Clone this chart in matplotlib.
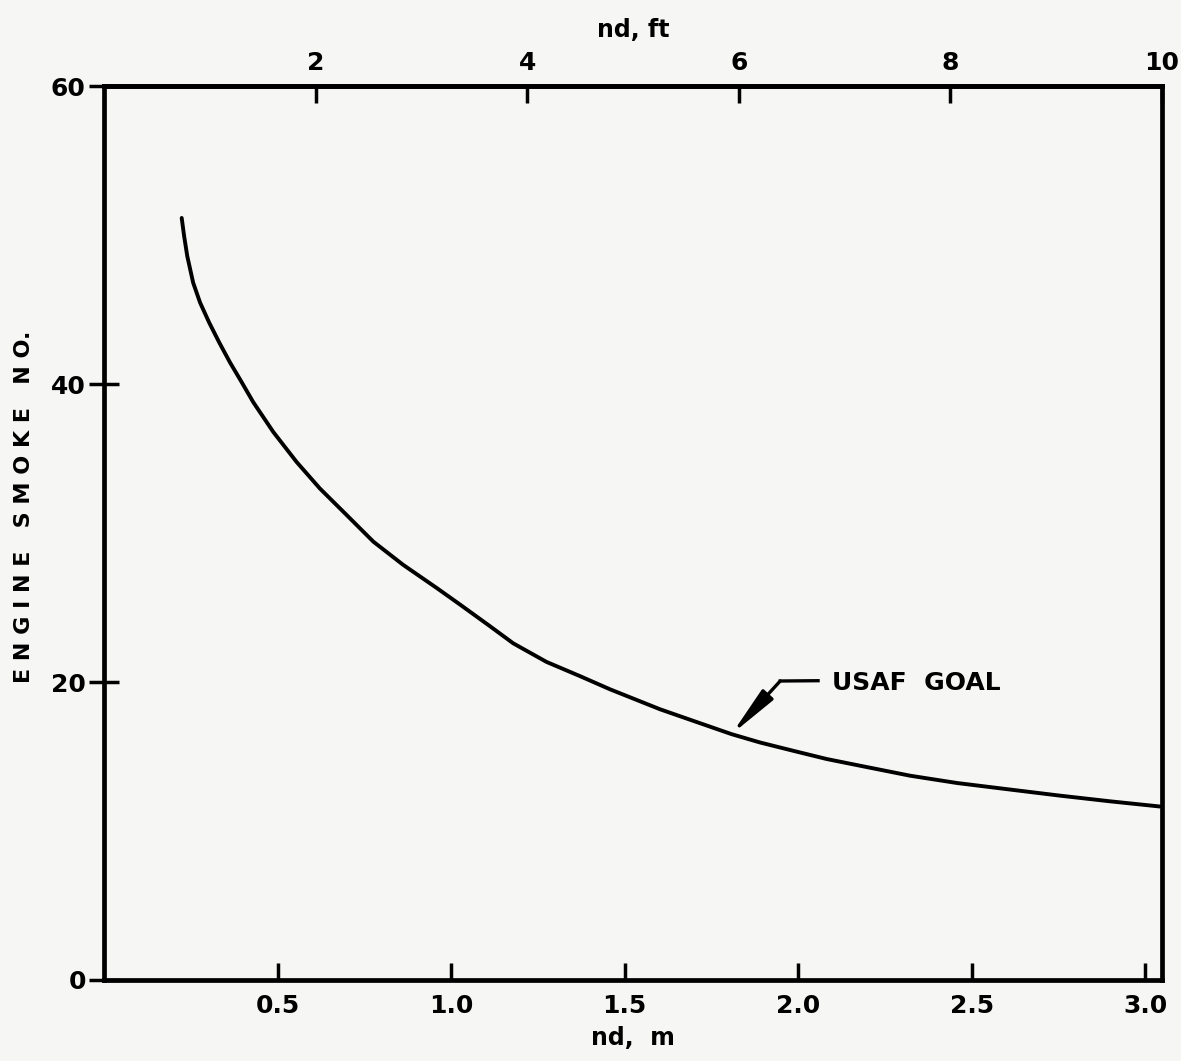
import matplotlib
matplotlib.use("Agg")
import matplotlib.pyplot as plt
import numpy as np

# Data
nd_m = [0.224, 0.231, 0.240, 0.257, 0.277, 0.303, 0.332, 0.363, 0.397, 0.430,
        0.488, 0.555, 0.622, 0.699, 0.776, 0.862, 0.959, 1.026, 1.112, 1.179,
        1.275, 1.371, 1.458, 1.530, 1.602, 1.698, 1.808, 1.890, 1.986, 2.082,
        2.178, 2.322, 2.457, 2.610, 2.754, 2.898, 3.042]
smoke_no = [51.17, 49.95, 48.61, 46.82, 45.48, 44.15, 42.81, 41.47, 40.13, 38.80,
            36.79, 34.78, 33.00, 31.22, 29.43, 27.87, 26.31, 25.20, 23.75, 22.60,
            21.35, 20.40, 19.51, 18.84, 18.17, 17.39, 16.50, 15.94, 15.38, 14.83,
            14.38, 13.71, 13.22, 12.78, 12.37, 11.99, 11.64]

m_ticks = [0.5, 1.0, 1.5, 2.0, 2.5, 3.0]
m_tick_labels = ["0.5", "1.0", "1.5", "2.0", "2.5", "3.0"]
ft_ticks = [2, 4, 6, 8, 10]
y_ticks = [0, 20, 40, 60]

goal_label = "USAF  GOAL"
goal_point = (1.808, 16.5)

FT_PER_M = 1 / 0.3048

plt.rcParams['font.family'] = ['DejaVu Sans']
plt.rcParams['font.weight'] = 'bold'
plt.rcParams['axes.labelweight'] = 'bold'
bg = '#f6f6f5'
fig = plt.figure(figsize=(11.81, 10.61), dpi=100, facecolor=bg)
ax = fig.add_axes([0.088, 0.0765, 0.896, 0.842], facecolor=bg)

ax.plot(nd_m, smoke_no, color='black', lw=2.8, solid_capstyle='round',
        solid_joinstyle='round')

ax.set_xlim(0, 10 / FT_PER_M)
ax.set_ylim(0, 60)

for s in ax.spines.values():
    s.set_linewidth(3.4)
    s.set_color('black')

ax.set_xticks(m_ticks)
ax.set_xticklabels(m_tick_labels)
ax.set_yticks(y_ticks)
ax.tick_params(axis='x', direction='in', length=12, width=2.5, labelsize=18, pad=10)
ax.tick_params(axis='y', direction='inout', length=22, width=2.5, labelsize=18, pad=2)

ax.set_xlabel("nd,  m", fontsize=17, labelpad=6, fontweight='bold')
ax.set_ylabel("E N G I N E   S M O K E   N O.", fontsize=16, fontweight='bold')
ax.yaxis.set_label_coords(-0.066, 0.53)

sec = ax.secondary_xaxis('top', functions=(lambda m: m * FT_PER_M, lambda f: f / FT_PER_M))
sec.set_xticks(ft_ticks)
sec.set_xticklabels([str(t) for t in ft_ticks])
sec.tick_params(direction='in', length=12, width=2.5, labelsize=18, pad=8)
sec.set_xlabel("nd, ft", fontsize=17, labelpad=10, fontweight='bold')
sec.spines['top'].set_linewidth(3.4)

# Leader line and arrow for label
elbow = (1.948, 20.07)
text_pos = (2.097, 19.95)
ax.plot([elbow[0], text_pos[0] - 0.04], [elbow[1], elbow[1] + 0.02], color='black', lw=2.4)
ax.annotate('', xy=goal_point, xytext=elbow,
            arrowprops=dict(arrowstyle='-|>,head_length=1.5,head_width=0.22', lw=2.4,
                            color='black', shrinkA=0, shrinkB=0, mutation_scale=20))
ax.text(text_pos[0], text_pos[1], goal_label, fontsize=18, ha='left', va='center')

fig.savefig("out.png", dpi=100, facecolor=bg)
